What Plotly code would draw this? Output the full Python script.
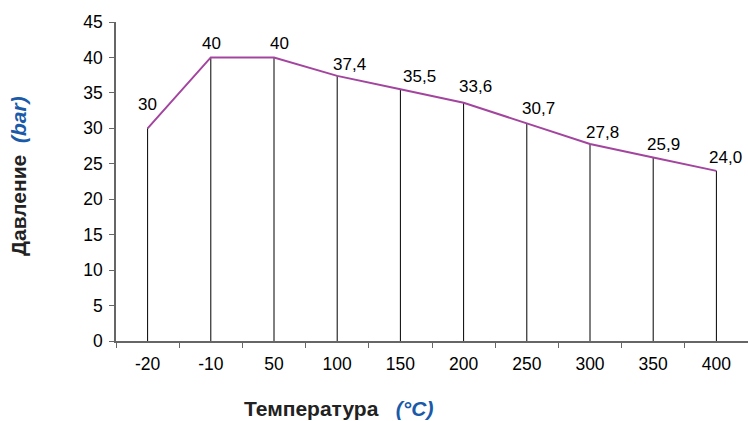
import plotly.graph_objects as go

categories = ["-20", "-10", "50", "100", "150", "200", "250", "300", "350", "400"]
pressure = [30, 40, 40, 37.4, 35.5, 33.6, 30.7, 27.8, 25.9, 24.0]
labels = ["30", "40", "40", "37,4", "35,5", "33,6", "30,7", "27,8", "25,9", "24,0"]
y_ticks = [0, 5, 10, 15, 20, 25, 30, 35, 40, 45]

# label placement offsets (px) relative to each point
label_dx = [0, 1, 5, 12, 19, 12, 12, 12, 10, 9]
label_dy = [24, 14, 14, 11, 13, 16, 15, 11, 13, 13]

FONT = "Liberation Sans, Arial, sans-serif"
PURPLE = "#a3449f"
BLUE = "#1a5aa8"

fig = go.Figure()
fig.add_trace(go.Scatter(
    x=categories, y=pressure, mode="lines",
    line=dict(color=PURPLE, width=2),
    error_y=dict(type="data", symmetric=False,
                 array=[0] * len(pressure), arrayminus=pressure,
                 width=0, thickness=1, color="#000000"),
    hoverinfo="x+y", showlegend=False,
))

for i, (v, t, dx, dy) in enumerate(zip(pressure, labels, label_dx, label_dy)):
    fig.add_annotation(x=i, y=v, text=t, showarrow=False,
                       xshift=dx, yshift=dy, xanchor="center", yanchor="middle",
                       font=dict(family=FONT, size=17, color="#000000"))

fig.add_annotation(
    xref="paper", yref="paper", x=(338 - 116) / 632, y=-(408 - 341) / 319,
    text="<b>Температура</b>\u00a0\u00a0\u00a0<b><i><span style='color:%s'>(°C)</span></i></b>" % BLUE,
    showarrow=False, xanchor="center", yanchor="middle",
    font=dict(family=FONT, size=21, color="#222222"))

fig.add_annotation(
    xref="paper", yref="paper", x=-(116 - 18) / 632, y=(341 - 176) / 319,
    text="<b>Давление</b>\u00a0\u00a0<b><i><span style='color:%s'>(bar)</span></i></b>" % BLUE,
    showarrow=False, textangle=-90, xanchor="center", yanchor="middle",
    font=dict(family=FONT, size=21, color="#222222"))

fig.update_layout(
    width=748, height=421,
    margin=dict(l=116, r=0, t=22, b=80),
    paper_bgcolor="white", plot_bgcolor="white",
    font=dict(family=FONT, size=17, color="#000000"),
    xaxis=dict(type="category", range=[-0.5, 9.5], tickson="boundaries",
               ticks="outside", ticklen=5, tickcolor="#666666",
               ticklabelstandoff=6,
               showline=True, linecolor="#666666", linewidth=1.5,
               showgrid=False, zeroline=False,
               tickfont=dict(family=FONT, size=17.5, color="#000000")),
    yaxis=dict(range=[0, 45], tickvals=y_ticks, ticks="outside", ticklen=5,
               tickcolor="#666666", showline=True, linecolor="#666666", linewidth=1.5,
               ticklabelstandoff=3,
               showgrid=False, zeroline=False,
               tickfont=dict(family=FONT, size=17.5, color="#000000")),
)

fig.write_html("out.html", config={"displayModeBar": False},
               post_script="document.body.style.margin='0';")
